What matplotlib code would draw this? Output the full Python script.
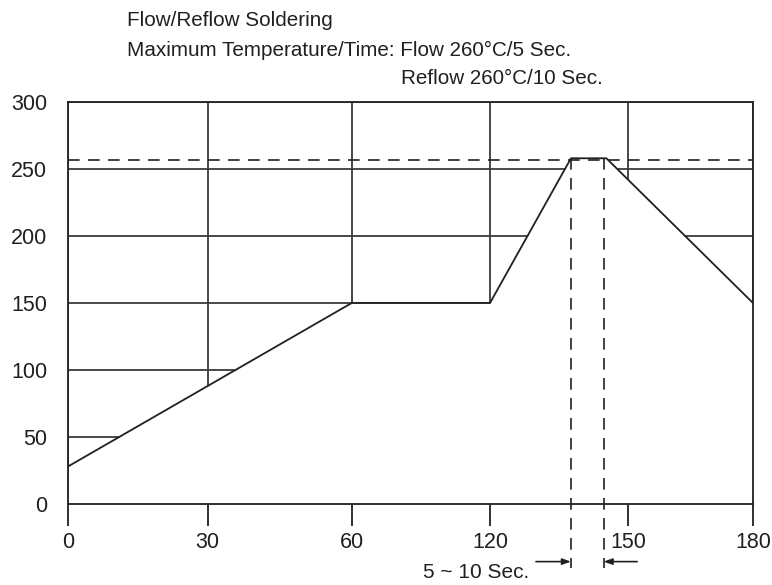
import matplotlib

matplotlib.use("Agg")

import matplotlib.pyplot as plt
import numpy as np

plt.rcParams["font.family"] = ["Liberation Sans", "DejaVu Sans"]

# profile (seconds, deg C)
time_s = [0, 60, 120, 137.6, 145.3, 180]
temp_c = [28, 150, 150, 258, 258, 150]

peak_limit = 257
window_s = [137.6, 144.7]

x_ticks = [0, 30, 60, 120, 150, 180]
y_ticks = [0, 50, 100, 150, 200, 250, 300]

title_lines = [
    "Flow/Reflow Soldering",
    "Maximum Temperature/Time: Flow 260°C/5 Sec.",
]
reflow_line = "Reflow 260°C/10 Sec."
window_label = "5 ~ 10 Sec."

# time axis in the original is schematic: ticks are spaced almost evenly
x_tick_pos = [0.0, 139.7, 283.7, 422.0, 560.0, 685.0]


def fwd(x):
    return np.interp(x, x_ticks, x_tick_pos)


def inv(p):
    return np.interp(p, x_tick_pos, x_ticks)


fig = plt.figure(figsize=(7.72, 5.85), dpi=100)
ax = fig.add_axes([68 / 772, 1 - 504 / 585, 685 / 772, 402 / 585])
ax.set_xscale("function", functions=(fwd, inv))
ax.set_xlim(0, 180)
ax.set_ylim(0, 300)
ax.set_xticks(x_ticks)
ax.set_yticks(y_ticks)
ax.set_xticklabels([str(t) for t in x_ticks])

ink = "#231f20"
ax.grid(True, color="#3a3a3a", linewidth=1.3)
ax.set_axisbelow(True)
for side in ax.spines:
    ax.spines[side].set_color(ink)
    ax.spines[side].set_linewidth(1.3)

ax.tick_params(axis="x", direction="out", length=16, width=1.3, color=ink,
               labelsize=15.5, pad=4, labelcolor=ink)
ax.tick_params(axis="y", length=0, labelsize=15.5, pad=15, labelcolor=ink)

# white area under the curve hides the grid
ax.fill_between(time_s, 0, temp_c, color="white", zorder=1, linewidth=0)
ax.plot(time_s, temp_c, color=ink, linewidth=1.3, zorder=3)

dash = (0, (7, 5))
ax.axhline(peak_limit, color=ink, linewidth=1.2, linestyle=dash, zorder=3)
for t in window_s:
    ax.plot([t, t], [258, -48], color=ink, linewidth=1.2, linestyle=dash,
            zorder=3, clip_on=False)

arrow = dict(arrowstyle="-|>,head_length=0.5,head_width=0.18", color=ink,
             linewidth=1.2, shrinkA=0, shrinkB=0)
ax.annotate("", xy=(window_s[0], -43), xytext=(130, -43), arrowprops=arrow,
            annotation_clip=False)
ax.annotate("", xy=(window_s[1], -43), xytext=(152.2, -43), arrowprops=arrow,
            annotation_clip=False)
ax.text(128.6, -51, window_label, ha="right", va="center", fontsize=15,
        color=ink, clip_on=False)

fig.text(127 / 772, 1 - 20 / 585, title_lines[0], ha="left", va="center",
         fontsize=14.9, color=ink)
fig.text(127 / 772, 1 - 50 / 585, title_lines[1], ha="left", va="center",
         fontsize=14.9, color=ink)
fig.text(401 / 772, 1 - 79 / 585, reflow_line, ha="left", va="center",
         fontsize=14.9, color=ink)

fig.savefig("out.png", dpi=100)
